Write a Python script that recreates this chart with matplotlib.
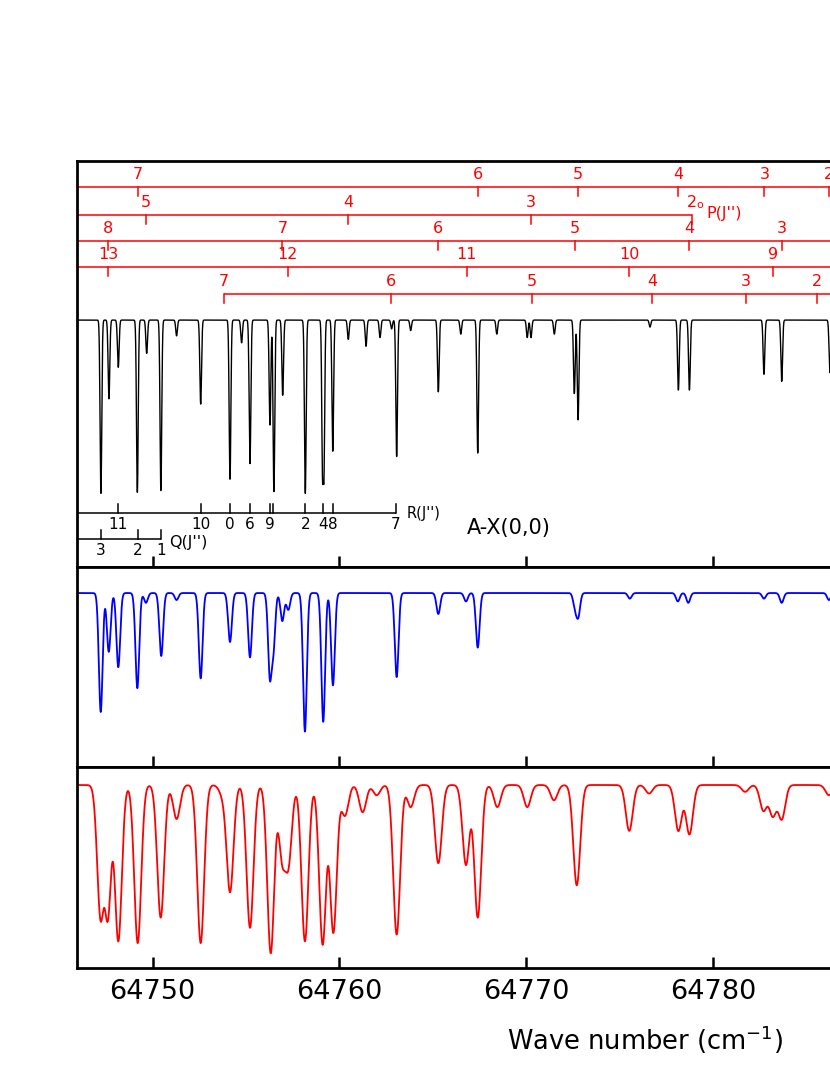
import numpy as np
import matplotlib
matplotlib.use('Agg')
import matplotlib.pyplot as plt

# absorption lines: centre (cm-1) and fractional depth
obs_pos = [64747.23, 64747.66, 64748.16, 64749.18, 64749.68, 64750.44, 64751.28,
           64752.57, 64754.14, 64754.76, 64755.21, 64756.28, 64756.49, 64756.96,
           64758.17, 64759.10, 64759.16, 64759.64, 64760.47, 64761.42, 64762.17,
           64762.79, 64763.06, 64763.81, 64765.29, 64766.49, 64767.40, 64768.42,
           64770.05, 64770.25, 64771.50, 64772.57, 64772.77, 64776.62, 64778.14,
           64778.73, 64782.72, 64783.67, 64786.25]
obs_depth = [0.99, 0.45, 0.27, 0.985, 0.19, 0.975, 0.09,
             0.48, 0.91, 0.13, 0.82, 0.60, 0.98, 0.43,
             0.99, 0.90, 0.90, 0.75, 0.11, 0.15, 0.10,
             0.05, 0.78, 0.06, 0.41, 0.08, 0.76, 0.08,
             0.10, 0.10, 0.08, 0.42, 0.57, 0.04, 0.40,
             0.40, 0.31, 0.35, 0.30]

jet_pos = [64747.22, 64747.65, 64748.16, 64749.18, 64749.64, 64750.46, 64751.28,
           64752.57, 64754.14, 64755.21, 64756.28, 64756.46, 64756.94, 64757.26,
           64758.15, 64759.13, 64759.65, 64763.06, 64765.29, 64766.77, 64767.40,
           64772.61, 64772.78, 64775.54, 64778.11, 64778.67, 64782.72, 64783.67,
           64786.20]
jet_depth = [0.85, 0.42, 0.53, 0.68, 0.07, 0.45, 0.05,
             0.61, 0.35, 0.46, 0.60, 0.38, 0.20, 0.12,
             0.99, 0.92, 0.66, 0.60, 0.15, 0.06, 0.39,
             0.10, 0.16, 0.04, 0.06, 0.07, 0.04, 0.07,
             0.05]

sim_pos = [64747.22, 64747.59, 64748.16, 64749.20, 64750.43, 64751.28, 64752.57,
           64753.73, 64754.14, 64755.21, 64756.32, 64756.94, 64757.26, 64758.15,
           64759.10, 64759.67, 64760.29, 64761.24, 64761.99, 64763.06, 64763.81,
           64765.29, 64766.77, 64767.40, 64768.45, 64770.05, 64771.48, 64772.70,
           64775.51, 64776.57, 64778.14, 64778.73, 64781.71, 64782.69, 64783.19,
           64783.67, 64786.20]
sim_depth = [0.78, 0.78, 0.92, 0.93, 0.78, 0.20, 0.93,
             0.05, 0.63, 0.84, 0.99, 0.42, 0.45, 0.92,
             0.94, 0.87, 0.18, 0.16, 0.06, 0.88, 0.13,
             0.46, 0.47, 0.78, 0.13, 0.13, 0.09, 0.59,
             0.27, 0.05, 0.27, 0.29, 0.04, 0.15, 0.18,
             0.20, 0.06]

# red assignment ladders
row1_pos = [64749.23, 64767.43, 64772.78, 64778.12, 64782.74, 64786.20]
row1_lab = ['7', '6', '5', '4', '3', '2']
row2_pos = [64749.64, 64760.47, 64770.24, 64778.89]
row2_lab = ['5', '4', '3', '2']
row3_pos = [64747.62, 64756.94, 64765.29, 64772.61, 64778.73, 64783.67]
row3_lab = ['8', '7', '6', '5', '4', '3']
row4_pos = [64747.62, 64757.23, 64766.81, 64775.51, 64783.19]
row4_lab = ['13', '12', '11', '10', '9']
row5_pos = [64753.83, 64762.74, 64770.31, 64776.73, 64781.74, 64785.55]
row5_lab = ['7', '6', '5', '4', '3', '2']

# black R and Q ladders
r_pos = [64748.16, 64752.57, 64754.15, 64755.21, 64756.26, 64756.46,
         64758.17, 64759.13, 64759.65, 64763.02]
r_lab = ['11', '10', '0', '6', '9', '', '2', '4', '8', '7']
q_pos = [64747.22, 64749.20, 64750.44]
q_lab = ['3', '2', '1']

xticks = [64750, 64760, 64770, 64780]
XMIN, XMAX = 64745.95, 64786.79


def spectrum(x, pos, depth, sigma):
    y = np.ones_like(x)
    for p, d in zip(pos, depth):
        y *= 1 - d * np.exp(-0.5 * ((x - p) / sigma) ** 2)
    return y


def ladder(ax, y, pos, labels, x0, x1, color, down=True, tick=0.05, off=0.03, fs=11.5):
    ax.plot([x0, x1], [y, y], color=color, lw=1.1, solid_capstyle='butt')
    for p, lab in zip(pos, labels):
        y2 = y - tick if down else y + tick
        ax.plot([p, p], [y, y2], color=color, lw=1.1)
        if down:
            ax.text(p, y + off, lab, color=color, fontsize=fs, ha='center', va='bottom')
        else:
            ax.text(p, y - off, lab, color=color, fontsize=fs, ha='center', va='top')


x = np.arange(XMIN, XMAX, 0.004)

fig = plt.figure(figsize=(8.3, 10.75), dpi=100)
W = (840 - 77) / 830
ax1 = fig.add_axes([77 / 830, (1075 - 567) / 1075, W, 406 / 1075])
ax2 = fig.add_axes([77 / 830, (1075 - 767) / 1075, W, 200 / 1075])
ax3 = fig.add_axes([77 / 830, (1075 - 968) / 1075, W, 201 / 1075])

ax1.plot(x, spectrum(x, obs_pos, obs_depth, 0.045), color='black', lw=1.0)
ax2.plot(x, spectrum(x, jet_pos, jet_depth, 0.10), color='#0000ff', lw=1.3)
ax3.plot(x, spectrum(x, sim_pos, sim_depth, 0.185), color='#ff0000', lw=1.3)

ax1.set_ylim(-0.411, 1.909)
ax2.set_ylim(-0.243, 1.186)
ax3.set_ylim(-0.0765, 1.106)

red = '#ff0000'
ladder(ax1, 1.760, row1_pos, row1_lab, XMIN, XMAX, red)
ladder(ax1, 1.600, row2_pos, row2_lab, XMIN, row2_pos[-1], red)
ladder(ax1, 1.451, row3_pos, row3_lab, XMIN, XMAX, red)
ladder(ax1, 1.303, row4_pos, row4_lab, XMIN, XMAX, red)
ladder(ax1, 1.149, row5_pos, row5_lab, row5_pos[0], XMAX, red)
ax1.text(64779.3, 1.655, 'o', color=red, fontsize=8, ha='center', va='center')
ax1.text(64779.66, 1.611, "P(J'')", color=red, fontsize=11.5, ha='left', va='center')

ladder(ax1, -0.101, r_pos, r_lab, XMIN, r_pos[-1], 'black', down=False, off=0.026, fs=11)
ladder(ax1, -0.249, q_pos, q_lab, XMIN, q_pos[-1], 'black', down=False, off=0.026, fs=11)
ax1.text(64763.6, -0.103, "R(J'')", fontsize=10.5, ha='left', va='center')
ax1.text(64750.9, -0.270, "Q(J'')", fontsize=11.5, ha='left', va='center')
ax1.text(64766.8, -0.189, 'A-X(0,0)', fontsize=15, ha='left', va='center')

for ax in (ax1, ax2, ax3):
    ax.set_xlim(XMIN, XMAX)
    ax.set_xticks(xticks)
    ax.set_yticks([])
    ax.tick_params(axis='x', direction='in', length=8, width=1.8, labelbottom=False)
    for s in ax.spines.values():
        s.set_linewidth(2)
ax3.tick_params(axis='x', labelbottom=True, labelsize=19.5, pad=8)
ax3.set_xticklabels([str(t) for t in xticks])

fig.text(644.5 / 830, 1 - 1040 / 1075, 'Wave number (cm$^{-1}$)', fontsize=18.5,
         ha='center', va='center')

fig.savefig('out.png', dpi=100)
